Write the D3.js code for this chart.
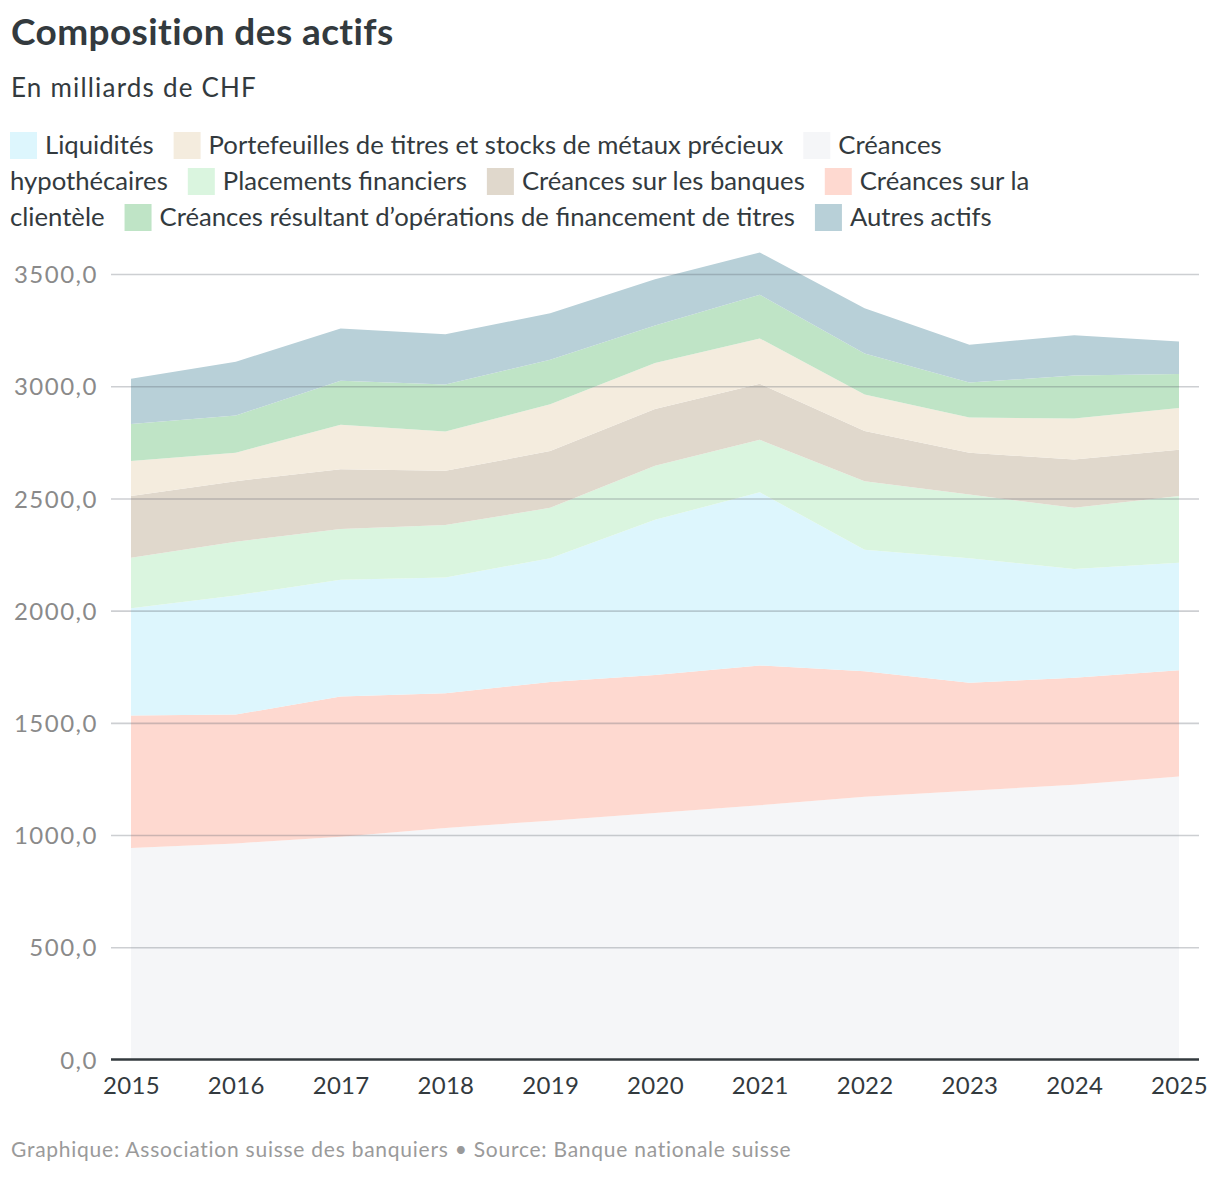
<!DOCTYPE html>
<html><head><meta charset="utf-8">
<script src="https://cdn.jsdelivr.net/npm/d3@7"></script>
<style>
body{margin:0;background:#fff;}
#wrap{position:relative;width:1220px;height:1178px;font-family:Lato,"Noto Sans",sans-serif;color:#333a3e;}
#title{position:absolute;left:11px;top:8px;font-size:37px;font-weight:700;letter-spacing:0.4px;white-space:nowrap;}
#sub{position:absolute;left:11px;top:71px;font-size:26px;letter-spacing:1.2px;white-space:nowrap;}
#foot{position:absolute;left:11px;top:1136px;font-size:21px;letter-spacing:0.75px;color:#9a9a9a;white-space:nowrap;}
svg{position:absolute;left:0;top:0;}
</style></head><body>
<div id="wrap">
<svg id="chart" width="1220" height="1178"></svg>
<div id="title">Composition des actifs</div>
<div id="sub">En milliards de CHF</div>
<div id="foot">Graphique: Association suisse des banquiers • Source: Banque nationale suisse</div>
</div>
<script>
const years = [2015,2016,2017,2018,2019,2020,2021,2022,2023,2024,2025];
const hypothecaires = [942,963,992,1032,1064,1098,1133,1171,1198,1224,1261];
const clientele     = [591,574,625,600,618,615,623,559,481,477,473];
const liquidites    = [478,531,521,516,552,692,771,541,554,485,479];
const placements    = [225,239,226,234,224,241,234,306,284,273,298];
const banques       = [275,270,266,241,253,253,250,223,186,214,206];
const portefeuilles = [156,127,198,175,209,204,202,163,158,183,186];
const sft           = [165,166,196,210,198,168,195,183,155,192,151];
const autres        = [201,239,233,223,207,206,188,201,169,179,145];
const yTicks = [0,500,1000,1500,2000,2500,3000,3500];

const series = [
  {key:"hyp",  name:"Créances hypothécaires", values:hypothecaires, color:"#f5f6f8"},
  {key:"cli",  name:"Créances sur la clientèle", values:clientele, color:"#fed9d0"},
  {key:"liq",  name:"Liquidités", values:liquidites, color:"#ddf6fd"},
  {key:"plac", name:"Placements financiers", values:placements, color:"#daf5df"},
  {key:"banq", name:"Créances sur les banques", values:banques, color:"#e0d8cc"},
  {key:"port", name:"Portefeuilles de titres et stocks de métaux précieux", values:portefeuilles, color:"#f4ecde"},
  {key:"sft",  name:"Créances résultant d’opérations de financement de titres", values:sft, color:"#bfe4c6"},
  {key:"aut",  name:"Autres actifs", values:autres, color:"#b8d0d8"}
];
const legendOrder = ["liq","port","hyp","plac","banq","cli","sft","aut"];

const table = years.map((y,i)=>{const o={year:y}; series.forEach(s=>o[s.key]=s.values[i]); return o;});
const stack = d3.stack().keys(series.map(s=>s.key))(table);

const svg = d3.select("#chart");
const x = d3.scaleLinear().domain([2015,2025]).range([131,1179]);
const y = d3.scaleLinear().domain([0,3500]).range([1059.5,274]);
const loc = d3.formatLocale({decimal:",",thousands:"",grouping:[3],currency:["","CHF"]});
const fmt = loc.format(".1f");

const area = d3.area().x(d=>x(d.data.year)).y0(d=>y(d[0])).y1(d=>y(d[1]));
svg.append("g").selectAll("path").data(stack).join("path")
  .attr("d",area).attr("fill",(d,i)=>series[i].color);

// grid
const yAxis = d3.axisLeft(y).tickValues(yTicks).tickFormat(fmt).tickSize(-(1199-111)).tickPadding(14);
const gy = svg.append("g").attr("transform","translate(111,0)").call(yAxis);
gy.select(".domain").remove();
gy.selectAll(".tick line").attr("stroke","#58606a").attr("stroke-opacity",0.3).attr("stroke-width",1.6);
gy.selectAll(".tick").filter(d=>d===0).select("line").remove();
gy.selectAll(".tick text").attr("fill","#8a8a8a").style("font-size","24px").style("letter-spacing","1.5px")
  .style("font-family","Lato, sans-serif").attr("x",-13).attr("dy","0.36em");

// baseline
const xAxis = d3.axisBottom(x).tickValues(years).tickFormat(d3.format("d")).tickSize(0).tickPadding(17);
const gx = svg.append("g").attr("transform",`translate(0,${y(0)})`).call(xAxis);
gx.select(".domain").remove();
gx.append("line").attr("x1",111).attr("x2",1199).attr("stroke","#333a3e").attr("stroke-width",2.5);
gx.selectAll(".tick text").attr("fill","#333a3e").style("font-size","24px").style("letter-spacing","0.3px")
  .style("font-family","Lato, sans-serif");

// legend (flowed in SVG, one text element per line fragment)
const lg = svg.append("g").style("font-family","Lato, sans-serif").style("font-size","25.7px").attr("fill","#333a3e");
const tmp = lg.append("text").attr("x",-1000).attr("y",-1000);
const measure = s => { tmp.text(s); return tmp.node().getComputedTextLength(); };
const left = 10, maxX = 1070, top0 = 132, rowH = 36, sw = 27, swGap = 8, itemGap = 20;
let cx = left, row = 0;
legendOrder.forEach((k,i)=>{
  const s = series.find(d=>d.key===k);
  const words = s.name.split(" ");
  const firstW = sw + swGap + measure(words[0]);
  if (i>0) { if (cx + itemGap + firstW > maxX) { row++; cx = left; } else cx += itemGap; }
  lg.append("rect").attr("x",cx).attr("y",top0+row*rowH).attr("width",sw).attr("height",sw).attr("fill",s.color);
  let lineX = cx + sw + swGap, line = words[0];
  const emit = (t,xx,r)=>lg.append("text").attr("x",xx).attr("y",top0+r*rowH+22).text(t);
  words.slice(1).forEach(w=>{
    const test = line + " " + w;
    if (lineX + measure(test) > maxX) { emit(line,lineX,row); row++; lineX = left; line = w; }
    else line = test;
  });
  emit(line,lineX,row);
  cx = lineX + measure(line);
});
tmp.remove();
</script>
</body></html>
